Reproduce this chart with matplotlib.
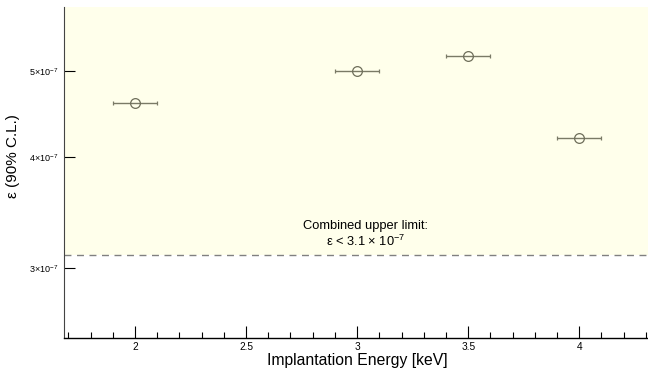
import matplotlib
matplotlib.use("Agg")
import matplotlib.pyplot as plt
from matplotlib.ticker import FixedLocator, MultipleLocator, NullLocator

plt.rcParams['font.family'] = ['Liberation Sans', 'DejaVu Sans']
plt.rcParams['mathtext.default'] = 'regular'

energy = [2.0, 3.0, 3.5, 4.0]
energy_err = [0.1, 0.1, 0.1, 0.1]
eps_limit = [4.60e-7, 5.00e-7, 5.20e-7, 4.20e-7]
combined_limit = 3.1e-7
y_ticks = [3e-7, 4e-7, 5e-7]
y_tick_labels = ['3×10$^{-7}$', '4×10$^{-7}$', '5×10$^{-7}$']
x_ticks = [2, 2.5, 3, 3.5, 4]
x_tick_labels = ['2', '2.5', '3', '3.5', '4']

fig = plt.figure(figsize=(6.48, 3.68), dpi=100)
ax = fig.add_axes([64/648, 30/368, (648-64)/648, 331/368])
ax.set_yscale('log')
ax.set_xlim(1.68, 4.31)
ax.set_ylim(2.5e-7, 5.9e-7)

# excluded region above the combined limit
ax.axhspan(combined_limit, 5.9e-7, color='#ffffeb', zorder=0, lw=0)
ax.axhline(combined_limit, color='#808080', ls=(0, (5, 4)), lw=1.0, zorder=1)

ax.errorbar(energy, eps_limit, xerr=energy_err, fmt='o', mfc='none',
            mec='#6e6e5a', ecolor='#7a7a66', ms=7, mew=0.9, elinewidth=1.0,
            capsize=1.5, capthick=0.8, zorder=3)

ax.text(3.04, 3.345e-7, 'Combined upper limit:', ha='center', va='center', fontsize=9.3)
ax.text(3.04, 3.215e-7, 'ε < 3.1 × 10$^{-7}$', ha='center', va='center', fontsize=9.3)

for side in ['top', 'right']:
    ax.spines[side].set_visible(False)
ax.spines['left'].set_color('#444444')
ax.spines['bottom'].set_linewidth(1.0)

ax.yaxis.set_major_locator(FixedLocator(y_ticks))
ax.yaxis.set_minor_locator(NullLocator())
ax.set_yticklabels(y_tick_labels)
ax.xaxis.set_major_locator(FixedLocator(x_ticks))
ax.xaxis.set_minor_locator(MultipleLocator(0.1))
ax.set_xticklabels(x_tick_labels)

ax.tick_params(axis='y', which='major', direction='in', labelsize=6.5, length=8, width=0.8, pad=4)
ax.tick_params(axis='x', which='major', direction='in', labelsize=7.3, length=9, width=0.8, pad=3)
ax.tick_params(axis='x', which='minor', direction='in', length=4, width=0.8)

ax.set_xlabel('Implantation Energy [keV]', fontsize=11.3)
ax.xaxis.set_label_coords((357 - 64) / (648 - 64), -22 / 331)
ax.xaxis.label.set_va('center')
ax.set_ylabel('ε (90% C.L.)', fontsize=11)
ax.yaxis.set_label_coords(-51 / 584, 0.55)
ax.yaxis.label.set_va('center')

fig.savefig('out.png', dpi=100)
